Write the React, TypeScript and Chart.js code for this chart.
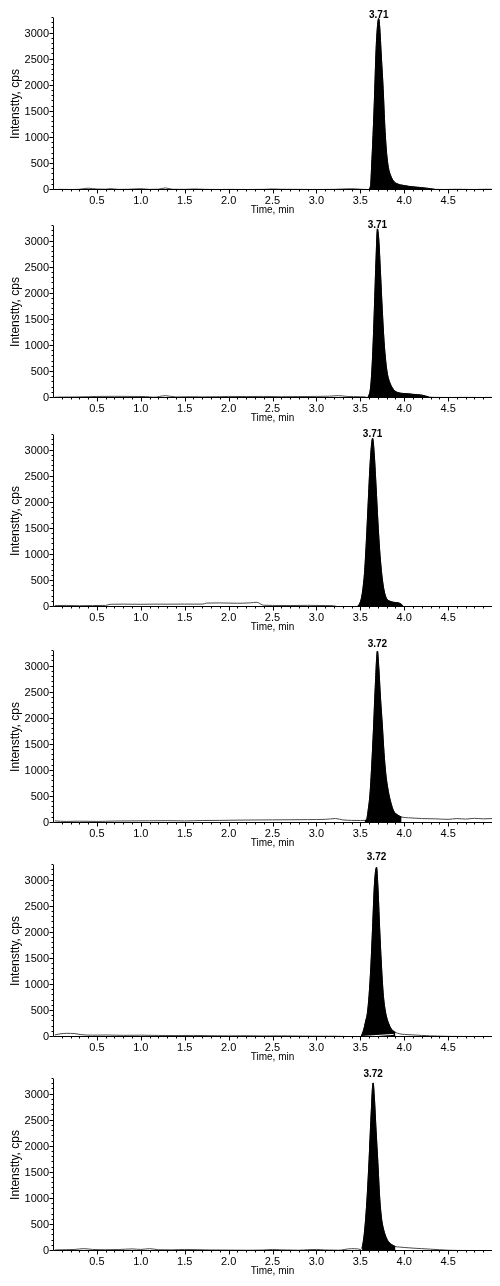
import React, { useEffect, useRef } from "react";
import { Chart, registerables } from "chart.js";

Chart.register(...registerables);

const FONT = "'Liberation Sans', Arial, Helvetica, sans-serif";

// ---------- data (time in min, intensity in cps) ----------
const p1Time = [0.02,0.1,0.2,0.3,0.4,0.5,0.6,0.65,0.75,0.85,1.0,1.1,1.2,1.28,1.36,1.5,1.6,1.75,1.9,2.0,2.2,2.4,2.5,2.6,2.8,3.0,3.2,3.4,3.5,3.57,3.59,3.61,3.62,3.63,3.64,3.66,3.68,3.70,3.71,3.72,3.74,3.76,3.78,3.80,3.82,3.85,3.88,3.92,4.0,4.1,4.2,4.3,4.35,4.45,4.6,4.8,4.95,5.0];
const p1Signal = [10,12,10,14,35,18,15,25,12,14,25,12,15,40,14,12,20,12,10,12,10,12,20,14,12,10,12,25,15,10,8,40,150,500,850,1700,2700,3220,3290,3150,2550,1950,1200,700,430,260,170,120,85,60,45,25,12,10,14,10,15,12];

const p2Time = [0.02,0.1,0.25,0.4,0.5,0.7,0.9,1.05,1.15,1.28,1.4,1.55,1.7,1.9,2.0,2.2,2.4,2.6,2.8,3.0,3.15,3.25,3.35,3.5,3.56,3.58,3.60,3.62,3.64,3.66,3.68,3.695,3.71,3.73,3.75,3.77,3.79,3.81,3.84,3.88,3.92,4.0,4.05,4.1,4.2,4.28,4.35,4.5,4.7,4.9,5.0];
const p2Signal = [15,18,20,25,30,32,30,28,15,45,20,25,22,25,30,28,30,25,28,30,35,45,30,25,20,10,60,250,800,1700,2700,3245,3050,2400,1700,1100,700,450,280,160,110,85,80,70,55,20,12,10,12,10,12];

const p3Time = [0.02,0.15,0.3,0.45,0.6,0.65,0.8,1.0,1.15,1.3,1.5,1.7,1.75,1.9,2.1,2.25,2.32,2.4,2.5,2.7,2.9,3.1,3.19,3.25,3.35,3.45,3.48,3.51,3.53,3.55,3.57,3.59,3.61,3.63,3.64,3.66,3.68,3.70,3.72,3.74,3.76,3.78,3.80,3.84,3.88,3.93,3.97,3.99,4.05,4.3,4.6,5.0];
const p3Signal = [27,30,25,28,30,52,55,52,55,54,56,55,75,78,72,80,90,33,30,28,32,28,25,5,3,5,30,150,350,700,1300,2000,2700,3150,3238,2900,2300,1650,1100,700,420,250,160,110,90,80,50,10,4,3,3,3];

const p4Time = [0.02,0.15,0.3,0.5,0.7,0.9,1.1,1.3,1.5,1.7,1.9,2.1,2.3,2.5,2.7,2.9,3.1,3.22,3.3,3.4,3.5,3.55,3.57,3.59,3.61,3.63,3.65,3.67,3.695,3.71,3.73,3.75,3.77,3.79,3.82,3.85,3.88,3.92,3.97,4.05,4.2,4.35,4.5,4.6,4.7,4.8,4.9,5.0];
const p4Signal = [40,30,35,30,38,40,42,45,40,48,50,55,58,60,62,65,70,85,60,50,48,50,60,250,550,1100,1800,2600,3300,3000,2400,1900,1350,950,600,380,230,160,115,100,85,80,70,85,75,90,80,85];

const p5Time = [0.02,0.08,0.15,0.25,0.32,0.45,0.6,0.8,1.0,1.2,1.4,1.6,1.8,2.0,2.2,2.4,2.6,2.8,3.0,3.2,3.4,3.49,3.51,3.54,3.56,3.58,3.60,3.62,3.64,3.66,3.685,3.70,3.72,3.74,3.76,3.78,3.80,3.83,3.86,3.90,3.95,4.0,4.1,4.2,4.3,4.5,4.7,5.0];
const p5Signal = [40,60,70,65,45,35,38,32,35,30,28,30,25,22,25,20,22,18,15,15,8,5,15,150,300,450,800,1350,2100,2900,3257,2900,2100,1400,850,550,380,230,140,90,60,50,40,30,22,12,10,8];

const p6Time = [0.02,0.15,0.25,0.35,0.45,0.6,0.75,0.9,1.0,1.1,1.2,1.35,1.5,1.65,1.8,2.0,2.2,2.4,2.5,2.6,2.8,2.9,3.0,3.1,3.25,3.4,3.47,3.50,3.52,3.54,3.56,3.58,3.60,3.62,3.646,3.66,3.68,3.70,3.72,3.74,3.76,3.79,3.82,3.86,3.90,3.95,4.0,4.1,4.2,4.3,4.4,4.5,4.7,5.0];
const p6Signal = [20,25,30,45,30,25,28,40,30,45,25,22,30,25,20,18,15,20,30,22,15,25,30,20,15,45,40,30,60,250,600,1100,1750,2500,3225,2950,2300,1700,1050,650,450,280,180,120,85,75,68,55,45,35,25,15,10,8];

// integrated peak window (min)
const peakStart = [3.59, 3.58, 3.45, 3.55, 3.51, 3.51];
const peakEnd = [4.35, 4.28, 3.99, 3.97, 3.90, 3.90];
const peakLabels = ["3.71", "3.71", "3.71", "3.72", "3.72", "3.72"];

// integration baseline drawn in panel 5
const p5BaselineTime = [3.52, 3.88];
const p5BaselineSignal = [10, 50];

// axes
const xMajorTicks = [0.5, 1.0, 1.5, 2.0, 2.5, 3.0, 3.5, 4.0, 4.5];
const yMajorTicks = [0, 500, 1000, 1500, 2000, 2500, 3000];
const X_MIN = 0;
const X_MAX = 5;
const X_MINOR_STEP = 0.1;
const Y_MAX = 3300;
const Y_MINOR_STEP = 100;

const panelTimes = [p1Time, p2Time, p3Time, p4Time, p5Time, p6Time];
const panelSignals = [p1Signal, p2Signal, p3Signal, p4Signal, p5Signal, p6Signal];
const panelBaselines: (null | { t: number[]; v: number[] })[] = [
  null, null, null, null, { t: p5BaselineTime, v: p5BaselineSignal }, null,
];

// ---------- layout ----------
const PANEL_TOPS = [0, 208, 417, 633, 847, 1061];
const CANVAS_H = 218;
const LABEL_OFFSETS = [3, 4, 4, 7, 9.5, 9];

const xTickValues: number[] = [];
for (let i = Math.round(X_MIN / X_MINOR_STEP) + 1; i * X_MINOR_STEP < X_MAX - 1e-9; i++) {
  xTickValues.push(Math.round(i * X_MINOR_STEP * 10) / 10);
}
const yTickValues: number[] = [];
for (let v = 0; v <= Y_MAX; v += Y_MINOR_STEP) yTickValues.push(v);

const isMajor = (v: number, list: number[]) => list.some((m) => Math.abs(m - v) < 1e-6);

const axesPlugin = {
  id: "axesTicks",
  afterDatasetsDraw(chart: any) {
    const { ctx, chartArea, scales } = chart;
    const xs = scales.x;
    const ys = scales.y;
    const ax = Math.floor(chartArea.left) + 0.5;
    const ay = Math.round(chartArea.bottom) - 0.5;
    ctx.save();
    ctx.strokeStyle = "#000";
    ctx.lineWidth = 1;
    ctx.beginPath();
    ctx.moveTo(ax, chartArea.top);
    ctx.lineTo(ax, ay);
    ctx.lineTo(chartArea.right, ay);
    for (const v of xTickValues) {
      const px = Math.round(xs.getPixelForValue(v)) + 0.5;
      const len = isMajor(v, xMajorTicks) ? 4 : 2;
      ctx.moveTo(px, ay);
      ctx.lineTo(px, ay + len);
    }
    for (const v of yTickValues) {
      const py = Math.round(ys.getPixelForValue(v)) - 0.5;
      const len = isMajor(v, yMajorTicks) ? 4 : 2;
      ctx.moveTo(ax, py);
      ctx.lineTo(ax - len, py);
    }
    ctx.stroke();
    ctx.restore();
  },
};

function makeLabelPlugin(index: number) {
  return {
    id: "peakLabel",
    afterDraw(chart: any) {
      const { ctx, scales } = chart;
      const t = panelTimes[index];
      const s = panelSignals[index];
      let k = 0;
      for (let i = 1; i < s.length; i++) if (s[i] > s[k]) k = i;
      const px = scales.x.getPixelForValue(t[k]);
      const py = scales.y.getPixelForValue(s[k]);
      ctx.save();
      ctx.fillStyle = "#000";
      ctx.font = `bold 10px ${FONT}`;
      ctx.textAlign = "center";
      ctx.textBaseline = "middle";
      ctx.fillText(peakLabels[index], px, py - LABEL_OFFSETS[index]);
      ctx.restore();
    },
  };
}

function Panel({ index }: { index: number }) {
  const ref = useRef<HTMLCanvasElement>(null);
  useEffect(() => {
    const times = panelTimes[index];
    const sig = panelSignals[index];
    const trace = times.map((t, i) => ({ x: t, y: sig[i] }));
    const peak = trace.filter(
      (p) => p.x >= peakStart[index] - 1e-9 && p.x <= peakEnd[index] + 1e-9
    );
    const datasets: any[] = [
      {
        data: trace,
        borderColor: "#4a4a4a",
        borderWidth: 1,
        pointRadius: 0,
        fill: false,
        order: 3,
        cubicInterpolationMode: "monotone",
      },
      {
        data: peak,
        borderColor: "#000",
        backgroundColor: "#000",
        borderWidth: 1,
        pointRadius: 0,
        fill: "origin",
        order: 2,
        cubicInterpolationMode: "monotone",
      },
    ];
    const bl = panelBaselines[index];
    if (bl) {
      datasets.push({
        data: bl.t.map((t, i) => ({ x: t, y: bl.v[i] })),
        borderColor: "#fff",
        borderWidth: 1,
        pointRadius: 0,
        fill: false,
        order: 1,
      });
    }
    const chart = new Chart(ref.current as HTMLCanvasElement, {
      type: "line",
      data: { datasets },
      options: {
        responsive: false,
        animation: false,
        devicePixelRatio: 1,
        layout: { padding: { top: 18, right: 8, left: 0, bottom: 0 } },
        plugins: { legend: { display: false }, tooltip: { enabled: false } },
        scales: {
          x: {
            type: "linear",
            min: X_MIN,
            max: X_MAX,
            afterFit: (s: any) => {
              s.height = CANVAS_H - 190;
            },
            afterBuildTicks: (s: any) => {
              s.ticks = xTickValues.map((v) => ({ value: v }));
            },
            grid: { display: false, drawTicks: false },
            border: { display: false },
            ticks: {
              autoSkip: false,
              maxRotation: 0,
              padding: 4,
              color: "#000",
              font: { family: FONT, size: 11 },
              callback: (v: any) => (isMajor(Number(v), xMajorTicks) ? Number(v).toFixed(1) : ""),
            },
            title: {
              display: true,
              text: "Time, min",
              color: "#000",
              font: { family: FONT, size: 10 },
              padding: { top: 0, bottom: 1.5 },
            },
          },
          y: {
            type: "linear",
            min: 0,
            max: Y_MAX,
            afterFit: (s: any) => {
              s.width = 53;
            },
            afterBuildTicks: (s: any) => {
              s.ticks = yTickValues.map((v) => ({ value: v }));
            },
            grid: { display: false, drawTicks: false },
            border: { display: false },
            ticks: {
              autoSkip: false,
              padding: 4,
              color: "#000",
              font: { family: FONT, size: 11 },
              callback: (v: any) => (isMajor(Number(v), yMajorTicks) ? String(v) : ""),
            },
            title: {
              display: true,
              text: "Intenstty, cps",
              color: "#000",
              font: { family: FONT, size: 12 },
              padding: { top: 8, bottom: 0 },
            },
          },
        },
      } as any,
      plugins: [axesPlugin, makeLabelPlugin(index)],
    });
    return () => chart.destroy();
  }, [index]);
  return (
    <canvas
      ref={ref}
      width={500}
      height={CANVAS_H}
      style={{ position: "absolute", left: 0, top: PANEL_TOPS[index], width: 500, height: CANVAS_H }}
    />
  );
}

export default function App() {
  return (
    <div style={{ position: "absolute", left: 0, top: 0, width: 500, height: 1286, background: "#fff" }}>
      {[0, 1, 2, 3, 4, 5].map((i) => (
        <Panel key={i} index={i} />
      ))}
    </div>
  );
}
